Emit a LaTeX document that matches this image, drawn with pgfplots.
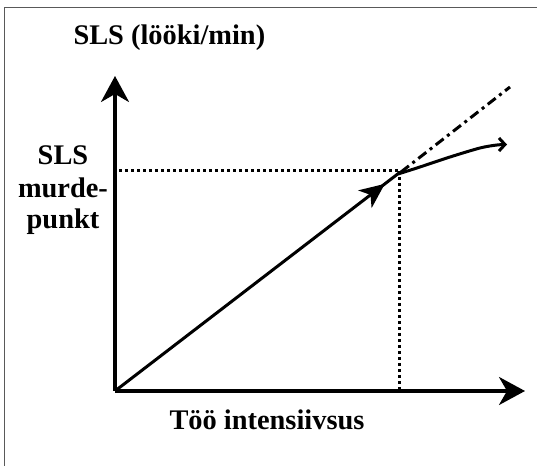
\documentclass[border=0pt]{standalone}
\usepackage{pgfplots}
\pgfplotsset{compat=1.18}
\usepackage{fontspec}
\setmainfont{Liberation Serif}
\usetikzlibrary{arrows.meta,decorations.markings}
\begin{document}
\begin{tikzpicture}[x=1bp,y=1bp]
\useasboundingbox (0,0) rectangle (537,466);
\draw[line width=1.5bp, black!65] (4.5,0) -- (4.5,458.5) -- (537,458.5);
\begin{axis}[
  at={(115bp,75bp)}, anchor=south west,
  x=1bp, y=1bp,
  xmin=0, xmax=410, ymin=0, ymax=315,
  axis lines*=left,
  xtick=\empty, ytick=\empty,
  clip=false,
  axis line style={line width=3.5bp},
  x axis line style={-{Stealth[length=26bp,width=28bp,inset=8bp]}},
  y axis line style={-{Stealth[length=26bp,width=28bp,inset=8bp]}},
]
% dotted guide lines
\addplot[line width=3bp, dash pattern=on 3bp off 3bp] coordinates {(4,220) (284,220)};
\addplot[line width=3bp, dash pattern=on 3bp off 3bp] coordinates {(284,220) (284,0)};
% extrapolated dash-dot line
\addplot[line width=3bp, dash pattern=on 10bp off 4.5bp on 3bp off 4.5bp] coordinates {(286,219) (395,304)};
% main linear part with mid arrow
\addplot[line width=3bp, postaction={decorate}, decoration={markings, mark=at position 0.95 with {\arrow{Stealth[length=25bp,width=22bp,inset=7bp]}}}] coordinates {(0,0) (284,218)};
% curved part
\addplot[line width=3bp, smooth, -{Straight Barb[length=6bp,width=13bp]}] coordinates {(283,217) (305,224) (335,234) (365,243) (382,246) (392,246.5)};
\end{axis}
\node[anchor=base west, font=\fontsize{28.5}{32}\selectfont\bfseries] at (70,421) {SLS (lööki/min)};
\node[anchor=base west, font=\fontsize{28.5}{32}\selectfont\bfseries] at (166,36) {Töö intensiivsus};
\node[anchor=base, font=\fontsize{28.5}{32}\selectfont\bfseries] at (63,301) {SLS};
\node[anchor=base, font=\fontsize{28.5}{32}\selectfont\bfseries] at (63,268) {murde-};
\node[anchor=base, font=\fontsize{28.5}{32}\selectfont\bfseries] at (63,237) {punkt};
\end{tikzpicture}
\end{document}
